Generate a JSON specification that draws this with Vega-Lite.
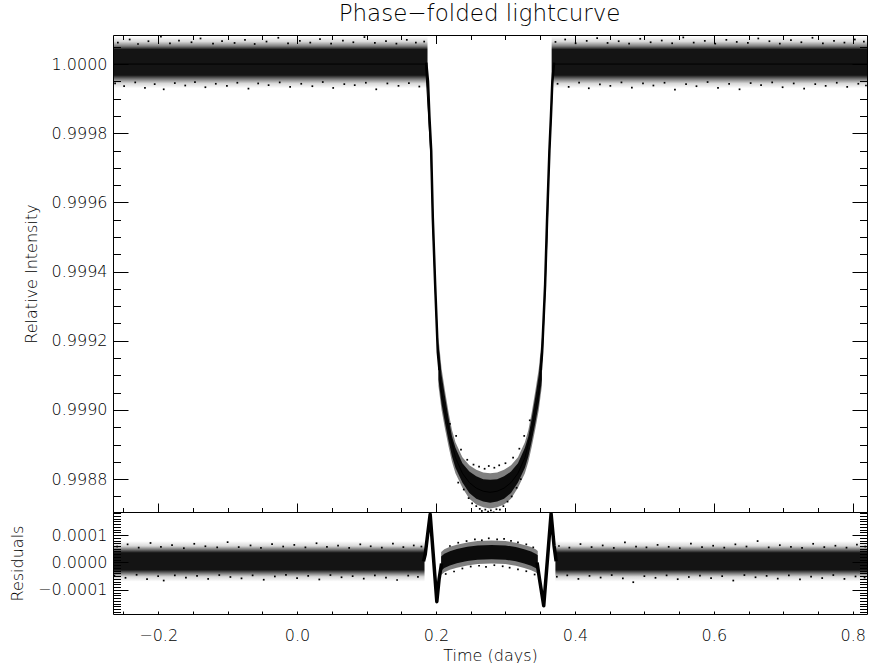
{
  "$schema": "https://vega.github.io/schema/vega-lite/v6.json",
  "padding": {"left": 9, "top": 3, "right": 1, "bottom": 0},
  "title": {"text": "Phase−folded lightcurve", "font": "DejaVu Sans", "fontSize": 23, "fontWeight": 200, "color": "black", "anchor": "middle", "offset": 8, "dx": 41},
  "config": {
    "font": "DejaVu Sans",
    "view": {"stroke": "black", "strokeWidth": 1},
    "axis": {"domain": false, "grid": false, "labelFont": "DejaVu Sans", "labelFontSize": 16, "labelFontWeight": 200, "labelColor": "black", "titleFont": "DejaVu Sans", "titleFontSize": 16, "titleFontWeight": 200, "titleColor": "black", "tickColor": "black", "tickWidth": 1, "labelFlush": false, "labelOverlap": false}
  },
  "datasets": {
    "topBase": [
      {"seg": "L", "t": -0.265, "lo": 0.99993, "hi": 1.00008},
      {"seg": "L", "t": 0.1878, "lo": 0.99993, "hi": 1.00008},
      {"seg": "R", "t": 0.3665, "lo": 0.99993, "hi": 1.00008},
      {"seg": "R", "t": 0.8205, "lo": 0.99993, "hi": 1.00008}
    ],
    "topOuter": [
      {"seg": "B", "t": 0.2035, "lo": 0.99907, "hi": 0.99921},
      {"seg": "B", "t": 0.208, "lo": 0.999, "hi": 0.99912},
      {"seg": "B", "t": 0.213, "lo": 0.998945, "hi": 0.999055},
      {"seg": "B", "t": 0.218, "lo": 0.998895, "hi": 0.998995},
      {"seg": "B", "t": 0.223, "lo": 0.99885, "hi": 0.998942},
      {"seg": "B", "t": 0.228, "lo": 0.998817, "hi": 0.998907},
      {"seg": "B", "t": 0.238, "lo": 0.998775, "hi": 0.998863},
      {"seg": "B", "t": 0.248, "lo": 0.998743, "hi": 0.99884},
      {"seg": "B", "t": 0.258, "lo": 0.998727, "hi": 0.998827},
      {"seg": "B", "t": 0.268, "lo": 0.998719, "hi": 0.998819},
      {"seg": "B", "t": 0.278, "lo": 0.998715, "hi": 0.998817},
      {"seg": "B", "t": 0.288, "lo": 0.998719, "hi": 0.998819},
      {"seg": "B", "t": 0.298, "lo": 0.998727, "hi": 0.998827},
      {"seg": "B", "t": 0.308, "lo": 0.998743, "hi": 0.99884},
      {"seg": "B", "t": 0.318, "lo": 0.998775, "hi": 0.998863},
      {"seg": "B", "t": 0.328, "lo": 0.998817, "hi": 0.998907},
      {"seg": "B", "t": 0.333, "lo": 0.99885, "hi": 0.998942},
      {"seg": "B", "t": 0.338, "lo": 0.998895, "hi": 0.998995},
      {"seg": "B", "t": 0.343, "lo": 0.998945, "hi": 0.999055},
      {"seg": "B", "t": 0.348, "lo": 0.999, "hi": 0.99912},
      {"seg": "B", "t": 0.3525, "lo": 0.99907, "hi": 0.99921}
    ],
    "topCore": [
      {"seg": "B", "t": 0.2035, "lo": 0.999088, "hi": 0.999192},
      {"seg": "B", "t": 0.208, "lo": 0.999018, "hi": 0.999102},
      {"seg": "B", "t": 0.213, "lo": 0.998962, "hi": 0.999038},
      {"seg": "B", "t": 0.218, "lo": 0.998912, "hi": 0.998978},
      {"seg": "B", "t": 0.223, "lo": 0.998866, "hi": 0.998924},
      {"seg": "B", "t": 0.228, "lo": 0.998833, "hi": 0.998891},
      {"seg": "B", "t": 0.238, "lo": 0.99879, "hi": 0.998846},
      {"seg": "B", "t": 0.248, "lo": 0.99876, "hi": 0.998822},
      {"seg": "B", "t": 0.258, "lo": 0.998743, "hi": 0.998808},
      {"seg": "B", "t": 0.268, "lo": 0.998735, "hi": 0.9988},
      {"seg": "B", "t": 0.278, "lo": 0.998732, "hi": 0.998798},
      {"seg": "B", "t": 0.288, "lo": 0.998735, "hi": 0.9988},
      {"seg": "B", "t": 0.298, "lo": 0.998743, "hi": 0.998808},
      {"seg": "B", "t": 0.308, "lo": 0.99876, "hi": 0.998822},
      {"seg": "B", "t": 0.318, "lo": 0.99879, "hi": 0.998846},
      {"seg": "B", "t": 0.328, "lo": 0.998833, "hi": 0.998891},
      {"seg": "B", "t": 0.333, "lo": 0.998866, "hi": 0.998924},
      {"seg": "B", "t": 0.338, "lo": 0.998912, "hi": 0.998978},
      {"seg": "B", "t": 0.343, "lo": 0.998962, "hi": 0.999038},
      {"seg": "B", "t": 0.348, "lo": 0.999018, "hi": 0.999102},
      {"seg": "B", "t": 0.3525, "lo": 0.999088, "hi": 0.999192}
    ],
    "topWall": [
      {"seg": "L", "t": 0.186, "f": 1.000004},
      {"seg": "L", "t": 0.1885, "f": 0.99995},
      {"seg": "L", "t": 0.1905, "f": 0.99985},
      {"seg": "L", "t": 0.1931, "f": 0.99975},
      {"seg": "L", "t": 0.1954, "f": 0.999556},
      {"seg": "L", "t": 0.1988, "f": 0.999362},
      {"seg": "L", "t": 0.2026, "f": 0.999167},
      {"seg": "L", "t": 0.205, "f": 0.999115},
      {"seg": "R", "t": 0.351, "f": 0.999115},
      {"seg": "R", "t": 0.3528, "f": 0.999167},
      {"seg": "R", "t": 0.3571, "f": 0.999362},
      {"seg": "R", "t": 0.36, "f": 0.999556},
      {"seg": "R", "t": 0.3633, "f": 0.99975},
      {"seg": "R", "t": 0.3655, "f": 0.99985},
      {"seg": "R", "t": 0.3675, "f": 0.99995},
      {"seg": "R", "t": 0.37, "f": 1.000004}
    ],
    "topModel": [
      {"t": -0.265, "f": 1.0}, {"t": 0.1849, "f": 1.0}, {"t": 0.1931, "f": 0.99972}, {"t": 0.196, "f": 0.99951},
      {"t": 0.1995, "f": 0.99932}, {"t": 0.203, "f": 0.99916}, {"t": 0.2074, "f": 0.99906}, {"t": 0.217, "f": 0.998955},
      {"t": 0.228, "f": 0.998862}, {"t": 0.238, "f": 0.998817}, {"t": 0.248, "f": 0.99879}, {"t": 0.258, "f": 0.998774},
      {"t": 0.268, "f": 0.998765}, {"t": 0.278, "f": 0.998762}, {"t": 0.288, "f": 0.998765}, {"t": 0.298, "f": 0.998774},
      {"t": 0.308, "f": 0.99879}, {"t": 0.318, "f": 0.998817}, {"t": 0.328, "f": 0.998862}, {"t": 0.339, "f": 0.998955},
      {"t": 0.3486, "f": 0.99906}, {"t": 0.353, "f": 0.99916}, {"t": 0.3565, "f": 0.99932}, {"t": 0.36, "f": 0.99951},
      {"t": 0.3626, "f": 0.99972}, {"t": 0.3691, "f": 1.0}, {"t": 0.8205, "f": 1.0}
    ],
    "topPts": [
      {"t": -0.258, "f": 1.000062}, {"t": -0.241, "f": 1.000071}, {"t": -0.229, "f": 1.000058}, {"t": -0.214, "f": 1.000066}, {"t": -0.196, "f": 1.000079}, {"t": -0.183, "f": 1.00006},
      {"t": -0.17, "f": 1.000068}, {"t": -0.152, "f": 1.000063}, {"t": -0.139, "f": 1.000074}, {"t": -0.121, "f": 1.000059}, {"t": -0.108, "f": 1.000066}, {"t": -0.09, "f": 1.000061},
      {"t": -0.075, "f": 1.00007}, {"t": -0.061, "f": 1.000058}, {"t": -0.044, "f": 1.000065}, {"t": -0.027, "f": 1.000076}, {"t": -0.013, "f": 1.00006}, {"t": 0.004, "f": 1.000067},
      {"t": 0.019, "f": 1.000062}, {"t": 0.033, "f": 1.000072}, {"t": 0.049, "f": 1.000059}, {"t": 0.066, "f": 1.000068}, {"t": 0.081, "f": 1.000063}, {"t": 0.097, "f": 1.000078},
      {"t": 0.112, "f": 1.000061}, {"t": 0.128, "f": 1.000066}, {"t": 0.143, "f": 1.000059}, {"t": 0.158, "f": 1.00007}, {"t": 0.171, "f": 1.000062}, {"t": 0.183, "f": 1.000065},
      {"t": -0.262, "f": 0.999944}, {"t": -0.249, "f": 0.999936}, {"t": -0.233, "f": 0.999947}, {"t": -0.219, "f": 0.999931}, {"t": -0.205, "f": 0.999942}, {"t": -0.192, "f": 0.999927},
      {"t": -0.176, "f": 0.999945}, {"t": -0.161, "f": 0.999938}, {"t": -0.147, "f": 0.999948}, {"t": -0.132, "f": 0.999933}, {"t": -0.117, "f": 0.999943}, {"t": -0.101, "f": 0.999937},
      {"t": -0.086, "f": 0.999946}, {"t": -0.07, "f": 0.999929}, {"t": -0.056, "f": 0.999944}, {"t": -0.041, "f": 0.999939}, {"t": -0.025, "f": 0.999947}, {"t": -0.01, "f": 0.999934},
      {"t": 0.006, "f": 0.999943}, {"t": 0.022, "f": 0.999936}, {"t": 0.037, "f": 0.999948}, {"t": 0.052, "f": 0.999931}, {"t": 0.068, "f": 0.999942}, {"t": 0.083, "f": 0.999939},
      {"t": 0.099, "f": 0.999946}, {"t": 0.114, "f": 0.999927}, {"t": 0.13, "f": 0.999944}, {"t": 0.146, "f": 0.999937}, {"t": 0.161, "f": 0.999945}, {"t": 0.176, "f": 0.999935},
      {"t": 0.372, "f": 1.000064}, {"t": 0.386, "f": 1.000071}, {"t": 0.401, "f": 1.00006}, {"t": 0.417, "f": 1.000067}, {"t": 0.432, "f": 1.000075}, {"t": 0.447, "f": 1.000061},
      {"t": 0.463, "f": 1.000066}, {"t": 0.478, "f": 1.000059}, {"t": 0.494, "f": 1.000073}, {"t": 0.509, "f": 1.000063}, {"t": 0.525, "f": 1.000068}, {"t": 0.54, "f": 1.00006},
      {"t": 0.556, "f": 1.000077}, {"t": 0.571, "f": 1.000062}, {"t": 0.587, "f": 1.000067}, {"t": 0.602, "f": 1.000059}, {"t": 0.618, "f": 1.00007}, {"t": 0.633, "f": 1.000064},
      {"t": 0.649, "f": 1.000061}, {"t": 0.664, "f": 1.000074}, {"t": 0.68, "f": 1.000066}, {"t": 0.695, "f": 1.000059}, {"t": 0.711, "f": 1.000069}, {"t": 0.726, "f": 1.000063},
      {"t": 0.742, "f": 1.000076}, {"t": 0.757, "f": 1.00006}, {"t": 0.773, "f": 1.000067}, {"t": 0.788, "f": 1.000062}, {"t": 0.803, "f": 1.000071}, {"t": 0.816, "f": 1.000065},
      {"t": 0.375, "f": 0.999943}, {"t": 0.391, "f": 0.999934}, {"t": 0.406, "f": 0.999946}, {"t": 0.42, "f": 0.99993}, {"t": 0.436, "f": 0.999941}, {"t": 0.451, "f": 0.999937},
      {"t": 0.467, "f": 0.999947}, {"t": 0.482, "f": 0.999932}, {"t": 0.498, "f": 0.999944}, {"t": 0.513, "f": 0.999938}, {"t": 0.529, "f": 0.999946}, {"t": 0.544, "f": 0.999926},
      {"t": 0.56, "f": 0.999942}, {"t": 0.575, "f": 0.999936}, {"t": 0.591, "f": 0.999948}, {"t": 0.606, "f": 0.999931}, {"t": 0.622, "f": 0.999943}, {"t": 0.637, "f": 0.999927},
      {"t": 0.653, "f": 0.999945}, {"t": 0.668, "f": 0.999939}, {"t": 0.684, "f": 0.999947}, {"t": 0.699, "f": 0.999933}, {"t": 0.715, "f": 0.999944}, {"t": 0.73, "f": 0.999929},
      {"t": 0.746, "f": 0.999942}, {"t": 0.761, "f": 0.999937}, {"t": 0.777, "f": 0.999946}, {"t": 0.792, "f": 0.999934}, {"t": 0.808, "f": 0.999943}, {"t": 0.819, "f": 0.999938}
    ],
    "bowlPts": [
      {"t": 0.232, "f": 0.99879}, {"t": 0.24, "f": 0.99877}, {"t": 0.247, "f": 0.998745}, {"t": 0.252, "f": 0.99873}, {"t": 0.258, "f": 0.998722}, {"t": 0.263, "f": 0.998714},
      {"t": 0.266, "f": 0.998708}, {"t": 0.271, "f": 0.998712}, {"t": 0.275, "f": 0.998706}, {"t": 0.279, "f": 0.99871}, {"t": 0.283, "f": 0.998704}, {"t": 0.287, "f": 0.998713},
      {"t": 0.292, "f": 0.998712}, {"t": 0.297, "f": 0.998722}, {"t": 0.303, "f": 0.998735}, {"t": 0.309, "f": 0.99875}, {"t": 0.316, "f": 0.998775}, {"t": 0.322, "f": 0.9988},
      {"t": 0.229, "f": 0.998925}, {"t": 0.236, "f": 0.998885}, {"t": 0.245, "f": 0.998856}, {"t": 0.254, "f": 0.998842}, {"t": 0.262, "f": 0.998836}, {"t": 0.27, "f": 0.99883},
      {"t": 0.276, "f": 0.998838}, {"t": 0.284, "f": 0.998833}, {"t": 0.291, "f": 0.99884}, {"t": 0.3, "f": 0.998846}, {"t": 0.311, "f": 0.998862}, {"t": 0.32, "f": 0.998888},
      {"t": 0.327, "f": 0.998925}, {"t": 0.22, "f": 0.99896}, {"t": 0.335, "f": 0.99897}
    ],
    "resBase": [
      {"seg": "L", "t": -0.265, "lo": -0.00007, "hi": 0.000078},
      {"seg": "L", "t": 0.1835, "lo": -0.00007, "hi": 0.000078},
      {"seg": "R", "t": 0.3719, "lo": -0.00007, "hi": 0.000078},
      {"seg": "R", "t": 0.8205, "lo": -0.00007, "hi": 0.000078}
    ],
    "resOuter": [
      {"seg": "H", "t": 0.2074, "lo": -0.000046, "hi": 0.000038},
      {"seg": "H", "t": 0.212, "lo": -0.000036, "hi": 0.000048},
      {"seg": "H", "t": 0.22, "lo": -0.000027, "hi": 0.000057},
      {"seg": "H", "t": 0.23, "lo": -0.000019, "hi": 0.000065},
      {"seg": "H", "t": 0.245, "lo": -0.000011, "hi": 0.000073},
      {"seg": "H", "t": 0.26, "lo": -0.000006, "hi": 0.000078},
      {"seg": "H", "t": 0.28, "lo": -0.000004, "hi": 0.00008},
      {"seg": "H", "t": 0.3, "lo": -0.000006, "hi": 0.000078},
      {"seg": "H", "t": 0.315, "lo": -0.000012, "hi": 0.000072},
      {"seg": "H", "t": 0.327, "lo": -0.00002, "hi": 0.000064},
      {"seg": "H", "t": 0.337, "lo": -0.000028, "hi": 0.000056},
      {"seg": "H", "t": 0.344, "lo": -0.000037, "hi": 0.000047},
      {"seg": "H", "t": 0.3465, "lo": -0.000042, "hi": 0.000042}
    ],
    "resCore": [
      {"seg": "H", "t": 0.2074, "lo": -0.00003, "hi": 0.000022},
      {"seg": "H", "t": 0.212, "lo": -0.00002, "hi": 0.000032},
      {"seg": "H", "t": 0.22, "lo": -0.000011, "hi": 0.000041},
      {"seg": "H", "t": 0.23, "lo": -0.000003, "hi": 0.000049},
      {"seg": "H", "t": 0.245, "lo": 0.000005, "hi": 0.000057},
      {"seg": "H", "t": 0.26, "lo": 0.00001, "hi": 0.000062},
      {"seg": "H", "t": 0.28, "lo": 0.000012, "hi": 0.000064},
      {"seg": "H", "t": 0.3, "lo": 0.00001, "hi": 0.000062},
      {"seg": "H", "t": 0.315, "lo": 0.000004, "hi": 0.000056},
      {"seg": "H", "t": 0.327, "lo": -0.000004, "hi": 0.000048},
      {"seg": "H", "t": 0.337, "lo": -0.000012, "hi": 0.00004},
      {"seg": "H", "t": 0.344, "lo": -0.000021, "hi": 0.000031},
      {"seg": "H", "t": 0.3465, "lo": -0.000026, "hi": 0.000026}
    ],
    "resSpike": [
      {"seg": "L", "t": 0.182, "r": 0.000004}, {"seg": "L", "t": 0.1845, "r": 0.00003}, {"seg": "L", "t": 0.1916, "r": 0.000176},
      {"seg": "L", "t": 0.2012, "r": -0.000143}, {"seg": "L", "t": 0.2045, "r": -0.00006}, {"seg": "L", "t": 0.208, "r": -0.000004},
      {"seg": "R", "t": 0.3455, "r": 0.0}, {"seg": "R", "t": 0.349, "r": -0.00006}, {"seg": "R", "t": 0.3551, "r": -0.000158},
      {"seg": "R", "t": 0.3657, "r": 0.000178}, {"seg": "R", "t": 0.37, "r": 0.00006}, {"seg": "R", "t": 0.373, "r": 0.000004}
    ],
    "resPts": [
      {"t": -0.259, "r": 0.000058}, {"t": -0.244, "r": 0.000066}, {"t": -0.228, "r": 0.000054}, {"t": -0.211, "r": 0.000071}, {"t": -0.196, "r": 0.000057}, {"t": -0.18, "r": 0.000063},
      {"t": -0.163, "r": 0.000052}, {"t": -0.148, "r": 0.000068}, {"t": -0.132, "r": 0.000059}, {"t": -0.115, "r": 0.000055}, {"t": -0.1, "r": 0.000074}, {"t": -0.084, "r": 0.000056},
      {"t": -0.067, "r": 0.000062}, {"t": -0.052, "r": 0.000053}, {"t": -0.036, "r": 0.000067}, {"t": -0.02, "r": 0.000058}, {"t": -0.004, "r": 0.000064}, {"t": 0.012, "r": 0.000055},
      {"t": 0.028, "r": 0.00007}, {"t": 0.043, "r": 0.000057}, {"t": 0.059, "r": 0.000061}, {"t": 0.075, "r": 0.000053}, {"t": 0.091, "r": 0.000066}, {"t": 0.106, "r": 0.000059},
      {"t": 0.122, "r": 0.000054}, {"t": 0.138, "r": 0.000069}, {"t": 0.153, "r": 0.000056}, {"t": 0.168, "r": 0.000062}, {"t": 0.179, "r": 0.000058},
      {"t": -0.263, "r": -0.000048}, {"t": -0.247, "r": -0.000056}, {"t": -0.231, "r": -0.000045}, {"t": -0.216, "r": -0.000061}, {"t": -0.2, "r": -0.00005}, {"t": -0.192, "r": -0.000066},
      {"t": -0.176, "r": -0.000047}, {"t": -0.16, "r": -0.000055}, {"t": -0.144, "r": -0.000049}, {"t": -0.128, "r": -0.00006}, {"t": -0.112, "r": -0.000046}, {"t": -0.096, "r": -0.000053},
      {"t": -0.08, "r": -0.000058}, {"t": -0.064, "r": -0.000047}, {"t": -0.048, "r": -0.000063}, {"t": -0.032, "r": -0.000051}, {"t": -0.016, "r": -0.000045}, {"t": 0.0, "r": -0.000057},
      {"t": 0.016, "r": -0.000049}, {"t": 0.032, "r": -0.000062}, {"t": 0.048, "r": -0.000046}, {"t": 0.064, "r": -0.000054}, {"t": 0.08, "r": -0.00005}, {"t": 0.096, "r": -0.000059},
      {"t": 0.112, "r": -0.000047}, {"t": 0.128, "r": -0.000055}, {"t": 0.144, "r": -0.000064}, {"t": 0.16, "r": -0.000048}, {"t": 0.174, "r": -0.000053},
      {"t": 0.377, "r": 0.00006}, {"t": 0.392, "r": 0.000054}, {"t": 0.408, "r": 0.000067}, {"t": 0.424, "r": 0.000056}, {"t": 0.44, "r": 0.000062}, {"t": 0.456, "r": 0.000053},
      {"t": 0.472, "r": 0.000073}, {"t": 0.488, "r": 0.000058}, {"t": 0.503, "r": 0.000055}, {"t": 0.519, "r": 0.000064}, {"t": 0.535, "r": 0.000057}, {"t": 0.551, "r": 0.000052},
      {"t": 0.567, "r": 0.000069}, {"t": 0.583, "r": 0.000056}, {"t": 0.599, "r": 0.000061}, {"t": 0.615, "r": 0.000054}, {"t": 0.631, "r": 0.000066}, {"t": 0.647, "r": 0.000058},
      {"t": 0.663, "r": 0.000078}, {"t": 0.679, "r": 0.000055}, {"t": 0.695, "r": 0.000063}, {"t": 0.711, "r": 0.000057}, {"t": 0.727, "r": 0.000053}, {"t": 0.743, "r": 0.000068},
      {"t": 0.759, "r": 0.000056}, {"t": 0.775, "r": 0.000061}, {"t": 0.791, "r": 0.000054}, {"t": 0.806, "r": 0.000065}, {"t": 0.818, "r": 0.000058},
      {"t": 0.374, "r": -0.000052}, {"t": 0.389, "r": -0.000047}, {"t": 0.405, "r": -0.00006}, {"t": 0.421, "r": -0.000049}, {"t": 0.437, "r": -0.000055}, {"t": 0.453, "r": -0.000046},
      {"t": 0.469, "r": -0.000058}, {"t": 0.484, "r": -0.000072}, {"t": 0.5, "r": -0.00005}, {"t": 0.516, "r": -0.000056}, {"t": 0.532, "r": -0.000047}, {"t": 0.548, "r": -0.000061},
      {"t": 0.564, "r": -0.000053}, {"t": 0.58, "r": -0.000048}, {"t": 0.596, "r": -0.000057}, {"t": 0.612, "r": -0.00005}, {"t": 0.628, "r": -0.000066}, {"t": 0.644, "r": -0.000046},
      {"t": 0.66, "r": -0.000054}, {"t": 0.676, "r": -0.000049}, {"t": 0.692, "r": -0.000059}, {"t": 0.708, "r": -0.000047}, {"t": 0.724, "r": -0.000062}, {"t": 0.74, "r": -0.000052},
      {"t": 0.756, "r": -0.000057}, {"t": 0.772, "r": -0.000046}, {"t": 0.788, "r": -0.00006}, {"t": 0.804, "r": -0.000051}, {"t": 0.817, "r": -0.000055}
    ],
    "humpPts": [
      {"t": 0.22, "r": 0.00006}, {"t": 0.232, "r": 0.000072}, {"t": 0.244, "r": 0.000078}, {"t": 0.256, "r": 0.000084}, {"t": 0.266, "r": 0.000081}, {"t": 0.276, "r": 0.000088},
      {"t": 0.288, "r": 0.000084}, {"t": 0.298, "r": 0.000086}, {"t": 0.308, "r": 0.000079}, {"t": 0.318, "r": 0.000073}, {"t": 0.33, "r": 0.000066}, {"t": 0.34, "r": 0.000055},
      {"t": 0.214, "r": -0.000042}, {"t": 0.226, "r": -0.000033}, {"t": 0.238, "r": -0.000022}, {"t": 0.25, "r": -0.000015}, {"t": 0.262, "r": -0.000012}, {"t": 0.272, "r": -0.000016},
      {"t": 0.284, "r": -0.00001}, {"t": 0.296, "r": -0.000014}, {"t": 0.306, "r": -0.000019}, {"t": 0.318, "r": -0.000025}, {"t": 0.33, "r": -0.000032}, {"t": 0.342, "r": -0.000044}
    ]
  },
  "spacing": 0,
  "bounds": "flush",
  "vconcat": [
    {
      "width": 754,
      "height": 477,
      "resolve": {"axis": {"x": "independent", "y": "independent"}},
      "layer": [
        {
          "data": {"name": "topBase"},
          "mark": {"type": "area", "clip": true, "color": {"gradient": "linear", "x1": 0, "y1": 0, "x2": 0, "y2": 1, "stops": [
            {"offset": 0, "color": "rgba(0,0,0,0)"}, {"offset": 0.1, "color": "rgba(0,0,0,0.15)"}, {"offset": 0.187, "color": "rgba(0,0,0,0.5)"},
            {"offset": 0.253, "color": "rgba(0,0,0,0.92)"}, {"offset": 0.747, "color": "rgba(0,0,0,0.92)"}, {"offset": 0.827, "color": "rgba(0,0,0,0.5)"},
            {"offset": 0.907, "color": "rgba(0,0,0,0.15)"}, {"offset": 1, "color": "rgba(0,0,0,0)"}]}},
          "encoding": {
            "x": {"field": "t", "type": "quantitative", "scale": {"domain": [-0.265, 0.8205], "nice": false, "zero": false}, "axis": null},
            "y": {"field": "hi", "type": "quantitative", "scale": {"domain": [0.998705, 1.000084], "nice": false, "zero": false}, "axis": null},
            "y2": {"field": "lo"},
            "detail": {"field": "seg"}
          }
        },
        {
          "data": {"name": "topOuter"},
          "mark": {"type": "area", "color": "black", "opacity": 0.5, "clip": true},
          "encoding": {
            "x": {"field": "t", "type": "quantitative", "scale": {"domain": [-0.265, 0.8205], "nice": false, "zero": false},
                  "axis": {"orient": "bottom", "values": [-0.2, 0, 0.2, 0.4, 0.6, 0.8], "labels": false, "tickSize": -9, "title": null}},
            "y": {"field": "hi", "type": "quantitative", "scale": {"domain": [0.998705, 1.000084], "nice": false, "zero": false},
                  "axis": {"orient": "left", "values": [0.9988, 0.999, 0.9992, 0.9994, 0.9996, 0.9998, 1], "ticks": false, "format": ".4f", "labelPadding": 6, "title": "Relative Intensity", "titlePadding": 12}},
            "y2": {"field": "lo"},
            "detail": {"field": "seg"}
          }
        },
        {
          "data": {"name": "topCore"},
          "mark": {"type": "area", "color": "black", "opacity": 0.9, "clip": true},
          "encoding": {
            "x": {"field": "t", "type": "quantitative", "scale": {"domain": [-0.265, 0.8205], "nice": false, "zero": false},
                  "axis": {"orient": "bottom", "values": [-0.25, -0.2, -0.15, -0.1, -0.05, 0, 0.05, 0.1, 0.15, 0.2, 0.25, 0.3, 0.35, 0.4, 0.45, 0.5, 0.55, 0.6, 0.65, 0.7, 0.75, 0.8], "labels": false, "tickSize": -4.5, "title": null}},
            "y": {"field": "hi", "type": "quantitative", "scale": {"domain": [0.998705, 1.000084], "nice": false, "zero": false},
                  "axis": {"orient": "left", "values": [0.9988, 0.999, 0.9992, 0.9994, 0.9996, 0.9998, 1], "labels": false, "tickSize": -15, "title": null}},
            "y2": {"field": "lo"},
            "detail": {"field": "seg"}
          }
        },
        {
          "data": {"name": "topWall"},
          "mark": {"type": "line", "color": "black", "strokeWidth": 2.5, "clip": true},
          "encoding": {
            "x": {"field": "t", "type": "quantitative", "scale": {"domain": [-0.265, 0.8205], "nice": false, "zero": false},
                  "axis": {"orient": "top", "values": [-0.2, 0, 0.2, 0.4, 0.6, 0.8], "labels": false, "tickSize": -8.5, "title": null}},
            "y": {"field": "f", "type": "quantitative", "scale": {"domain": [0.998705, 1.000084], "nice": false, "zero": false},
                  "axis": {"orient": "left", "values": [0.99875, 0.9988, 0.99885, 0.9989, 0.99895, 0.999, 0.99905, 0.9991, 0.99915, 0.9992, 0.99925, 0.9993, 0.99935, 0.9994, 0.99945, 0.9995, 0.99955, 0.9996, 0.99965, 0.9997, 0.99975, 0.9998, 0.99985, 0.9999, 0.99995, 1, 1.00005], "labels": false, "tickSize": -7.5, "title": null}},
            "detail": {"field": "seg"}
          }
        },
        {
          "data": {"name": "topModel"},
          "mark": {"type": "line", "color": "black", "strokeWidth": 1, "clip": true},
          "encoding": {
            "x": {"field": "t", "type": "quantitative", "scale": {"domain": [-0.265, 0.8205], "nice": false, "zero": false},
                  "axis": {"orient": "top", "values": [-0.25, -0.2, -0.15, -0.1, -0.05, 0, 0.05, 0.1, 0.15, 0.2, 0.25, 0.3, 0.35, 0.4, 0.45, 0.5, 0.55, 0.6, 0.65, 0.7, 0.75, 0.8], "labels": false, "tickSize": -4.5, "title": null}},
            "y": {"field": "f", "type": "quantitative", "scale": {"domain": [0.998705, 1.000084], "nice": false, "zero": false},
                  "axis": {"orient": "right", "values": [0.9988, 0.999, 0.9992, 0.9994, 0.9996, 0.9998, 1], "labels": false, "tickSize": -15, "title": null}}
          }
        },
        {
          "data": {"name": "topPts"},
          "mark": {"type": "point", "shape": "square", "filled": true, "color": "black", "size": 3, "opacity": 1, "clip": true},
          "encoding": {
            "x": {"field": "t", "type": "quantitative", "scale": {"domain": [-0.265, 0.8205], "nice": false, "zero": false}, "axis": null},
            "y": {"field": "f", "type": "quantitative", "scale": {"domain": [0.998705, 1.000084], "nice": false, "zero": false},
                  "axis": {"orient": "right", "values": [0.99875, 0.9988, 0.99885, 0.9989, 0.99895, 0.999, 0.99905, 0.9991, 0.99915, 0.9992, 0.99925, 0.9993, 0.99935, 0.9994, 0.99945, 0.9995, 0.99955, 0.9996, 0.99965, 0.9997, 0.99975, 0.9998, 0.99985, 0.9999, 0.99995, 1, 1.00005], "labels": false, "tickSize": -7.5, "title": null}}
          }
        },
        {
          "data": {"name": "bowlPts"},
          "mark": {"type": "point", "shape": "square", "filled": true, "color": "black", "size": 3, "opacity": 1, "clip": true},
          "encoding": {
            "x": {"field": "t", "type": "quantitative", "scale": {"domain": [-0.265, 0.8205], "nice": false, "zero": false}, "axis": null},
            "y": {"field": "f", "type": "quantitative", "scale": {"domain": [0.998705, 1.000084], "nice": false, "zero": false}, "axis": null}
          }
        }
      ]
    },
    {
      "width": 754,
      "height": 102,
      "resolve": {"axis": {"x": "independent", "y": "independent"}},
      "layer": [
        {
          "data": {"name": "resBase"},
          "mark": {"type": "area", "clip": true, "color": {"gradient": "linear", "x1": 0, "y1": 0, "x2": 0, "y2": 1, "stops": [
            {"offset": 0, "color": "rgba(0,0,0,0)"}, {"offset": 0.12, "color": "rgba(0,0,0,0.15)"}, {"offset": 0.2, "color": "rgba(0,0,0,0.5)"},
            {"offset": 0.29, "color": "rgba(0,0,0,0.92)"}, {"offset": 0.71, "color": "rgba(0,0,0,0.92)"}, {"offset": 0.8, "color": "rgba(0,0,0,0.5)"},
            {"offset": 0.88, "color": "rgba(0,0,0,0.15)"}, {"offset": 1, "color": "rgba(0,0,0,0)"}]}},
          "encoding": {
            "x": {"field": "t", "type": "quantitative", "scale": {"domain": [-0.265, 0.8205], "nice": false, "zero": false}, "axis": null},
            "y": {"field": "hi", "type": "quantitative", "scale": {"domain": [-0.000188, 0.000184], "nice": false, "zero": false}, "axis": null},
            "y2": {"field": "lo"},
            "detail": {"field": "seg"}
          }
        },
        {
          "data": {"name": "resOuter"},
          "mark": {"type": "area", "color": "black", "opacity": 0.5, "clip": true},
          "encoding": {
            "x": {"field": "t", "type": "quantitative", "scale": {"domain": [-0.265, 0.8205], "nice": false, "zero": false},
                  "axis": {"orient": "bottom", "values": [-0.2, 0, 0.2, 0.4, 0.6, 0.8], "ticks": false, "format": ".1f", "labelPadding": 13, "title": "Time (days)", "titlePadding": 4}},
            "y": {"field": "hi", "type": "quantitative", "scale": {"domain": [-0.000188, 0.000184], "nice": false, "zero": false},
                  "axis": {"orient": "left", "values": [-0.0001, 0, 0.0001], "ticks": false, "format": ".4f", "labelPadding": 6, "title": "Residuals", "titlePadding": 12}},
            "y2": {"field": "lo"},
            "detail": {"field": "seg"}
          }
        },
        {
          "data": {"name": "resCore"},
          "mark": {"type": "area", "color": "black", "opacity": 0.9, "clip": true},
          "encoding": {
            "x": {"field": "t", "type": "quantitative", "scale": {"domain": [-0.265, 0.8205], "nice": false, "zero": false},
                  "axis": {"orient": "bottom", "values": [-0.25, -0.2, -0.15, -0.1, -0.05, 0, 0.05, 0.1, 0.15, 0.2, 0.25, 0.3, 0.35, 0.4, 0.45, 0.5, 0.55, 0.6, 0.65, 0.7, 0.75, 0.8], "labels": false, "tickSize": -3, "title": null}},
            "y": {"field": "hi", "type": "quantitative", "scale": {"domain": [-0.000188, 0.000184], "nice": false, "zero": false},
                  "axis": {"orient": "left", "values": [-0.0001, 0, 0.0001], "labels": false, "tickSize": -15, "title": null}},
            "y2": {"field": "lo"},
            "detail": {"field": "seg"}
          }
        },
        {
          "data": {"name": "resSpike"},
          "mark": {"type": "line", "color": "black", "strokeWidth": 3.5, "strokeJoin": "round", "clip": true},
          "encoding": {
            "x": {"field": "t", "type": "quantitative", "scale": {"domain": [-0.265, 0.8205], "nice": false, "zero": false}, "axis": null},
            "y": {"field": "r", "type": "quantitative", "scale": {"domain": [-0.000188, 0.000184], "nice": false, "zero": false},
                  "axis": {"orient": "left", "values": [-0.00018, -0.00017, -0.00016, -0.00015, -0.00014, -0.00013, -0.00012, -0.00011, -0.0001, -0.00009, -0.00008, -0.00007, -0.00006, -0.00005, -0.00004, -0.00003, -0.00002, -0.00001, 0, 0.00001, 0.00002, 0.00003, 0.00004, 0.00005, 0.00006, 0.00007, 0.00008, 0.00009, 0.0001, 0.00011, 0.00012, 0.00013, 0.00014, 0.00015, 0.00016, 0.00017, 0.00018], "labels": false, "tickSize": -7.5, "title": null}},
            "detail": {"field": "seg"}
          }
        },
        {
          "data": {"name": "resPts"},
          "mark": {"type": "point", "shape": "square", "filled": true, "color": "black", "size": 3, "opacity": 1, "clip": true},
          "encoding": {
            "x": {"field": "t", "type": "quantitative", "scale": {"domain": [-0.265, 0.8205], "nice": false, "zero": false}, "axis": null},
            "y": {"field": "r", "type": "quantitative", "scale": {"domain": [-0.000188, 0.000184], "nice": false, "zero": false},
                  "axis": {"orient": "right", "values": [-0.0001, 0, 0.0001], "labels": false, "tickSize": -15, "title": null}}
          }
        },
        {
          "data": {"name": "humpPts"},
          "mark": {"type": "point", "shape": "square", "filled": true, "color": "black", "size": 3, "opacity": 1, "clip": true},
          "encoding": {
            "x": {"field": "t", "type": "quantitative", "scale": {"domain": [-0.265, 0.8205], "nice": false, "zero": false}, "axis": null},
            "y": {"field": "r", "type": "quantitative", "scale": {"domain": [-0.000188, 0.000184], "nice": false, "zero": false},
                  "axis": {"orient": "right", "values": [-0.00018, -0.00017, -0.00016, -0.00015, -0.00014, -0.00013, -0.00012, -0.00011, -0.0001, -0.00009, -0.00008, -0.00007, -0.00006, -0.00005, -0.00004, -0.00003, -0.00002, -0.00001, 0, 0.00001, 0.00002, 0.00003, 0.00004, 0.00005, 0.00006, 0.00007, 0.00008, 0.00009, 0.0001, 0.00011, 0.00012, 0.00013, 0.00014, 0.00015, 0.00016, 0.00017, 0.00018], "labels": false, "tickSize": -7.5, "title": null}}
          }
        }
      ]
    }
  ]
}
